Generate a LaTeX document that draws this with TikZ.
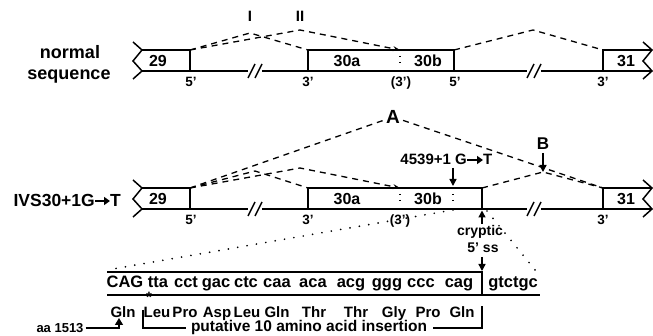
\documentclass[tikz,border=0pt]{standalone}
\usepackage{fontspec}
\setmainfont{Liberation Sans}
\usetikzlibrary{arrows.meta}
\newcommand\fsz[1]{\fontsize{#1}{#1}\selectfont\bfseries}
% torn (continuing) edge of an exon box: x of the edge, y of the box top
\newcommand\tornedge[2]{%
  \draw[exon] (#1-9,#2-8) -- (#1,#2) -- (#1-9,#2+11) -- (#1,#2+21) -- (#1-9,#2+29);}
% intron break mark "//" centred at x on the intron line at y
\newcommand\intronbreak[2]{%
  \draw[exon] (#1-7,#2+7) -- (#1,#2-7) (#1,#2+7) -- (#1+7,#2-7);}
\begin{document}
\begin{tikzpicture}[x=1pt,y=-1pt,
  exon/.style={line width=1.5pt},
  splice/.style={line width=1.3pt, dash pattern=on 6pt off 5pt},
  splicearrow/.style={splice, -{Stealth[length=7pt,width=5pt]}},
  pointer/.style={line width=1.4pt, -{Triangle[length=7pt,width=7pt]}},
  textarrow/.style={line width=1.8pt, -{Triangle[length=6pt,width=8pt]}},
  zoomline/.style={line width=1.9pt, dash pattern=on 0pt off 9.5pt, line cap=round},
  divider/.style={line width=1.3pt, dash pattern=on 1.5pt off 4.5pt},
  lab/.style={inner sep=0pt, anchor=base, font=\fsz{13.5}},
  exlab/.style={inner sep=0pt, font=\fsz{16}},
  seq/.style={inner sep=0pt, anchor=base, font=\fsz{16.5}},
  aa/.style={inner sep=0pt, anchor=base, font=\fsz{15}}]
\useasboundingbox (0,0) rectangle (653,336);

% ---------------- normal sequence ----------------
\node[lab, font=\fsz{18}] (tn1) at (70,59) {normal};
\node[lab, font=\fsz{18}] (tn2) at (69,80) {sequence};

% exon 29
\draw[exon] (142,50) -- (190,50) -- (190,71) -- (142,71);
\tornedge{142}{50}
\node[exlab] (e29) at (158,61) {29};
\coordinate (d29) at (190,50);
% intron 29
\draw[exon] (190,71) -- (248,71) (262,71) -- (308,71);
\intronbreak{255}{71}
% exon 30
\draw[exon] (308,50) rectangle (454,71);
\draw[divider] (400,56) -- (400,68);
\node[exlab] (e30a) at (347,61) {30a};
\node[exlab] (e30b) at (428,61) {30b};
\coordinate (a30) at (308,50);
\coordinate (a30x) at (400,50);
\coordinate (d30) at (454,50);
% intron 30
\draw[exon] (454,71) -- (527,71) (541,71) -- (603,71);
\intronbreak{534}{71}
% exon 31
\draw[exon] (652,50) -- (603,50) -- (603,71) -- (652,71);
\tornedge{652}{50}
\node[exlab] (e31) at (626,61) {31};
\coordinate (a31) at (603,50);
% splice-site labels
\node[lab] (s1) at (191,87) {5'};
\node[lab] (s2) at (308,87) {3'};
\node[lab] (s3) at (401,87) {(3')};
\node[lab] (s4) at (455,87) {5'};
\node[lab] (s5) at (603,87) {3'};
% splicing events
\node[lab, font=\fsz{15}] (pI) at (250,22) {I};
\node[lab, font=\fsz{15}] (pII) at (300,22) {II};
\coordinate (kI) at (250,33);
\coordinate (kII) at (300,30);
\coordinate (k30) at (533,30);
\draw[splice] (d29) -- (kI) -- (a30);
\draw[splicearrow] (d29) -- (kII) -- (a30x);
\draw[splice] (d30) -- (k30) -- (a31);

% ---------------- IVS30+1G->T ----------------
\node[lab, font=\fsz{17.5}, anchor=base east] (tm1) at (95,207) {IVS30+1G};
\node[lab, font=\fsz{17.5}, anchor=base west] (tm2) at (110,207) {T};
\draw[textarrow] (tm1.east |- 0,201) -- (tm2.west |- 0,201);

% exon 29
\draw[exon] (142,188) -- (190,188) -- (190,209) -- (142,209);
\tornedge{142}{188}
\node[exlab] (m29) at (158,199) {29};
\coordinate (md29) at (190,188);
% intron 29
\draw[exon] (190,209) -- (248,209) (262,209) -- (308,209);
\intronbreak{255}{209}
% exon 30 extended to the cryptic donor
\draw[exon] (308,188) rectangle (482,209);
\draw[divider] (400,194) -- (400,206);
\draw[divider] (453,194) -- (453,206);
\node[exlab] (m30a) at (347,199) {30a};
\node[exlab] (m30b) at (428,199) {30b};
\coordinate (ma30) at (308,188);
\coordinate (ma30x) at (400,188);
\coordinate (mcr) at (482,188);
% intron 30
\draw[exon] (482,209) -- (527,209) (541,209) -- (603,209);
\intronbreak{534}{209}
% exon 31
\draw[exon] (652,188) -- (603,188) -- (603,209) -- (652,209);
\tornedge{652}{188}
\node[exlab] (m31) at (626,199) {31};
\coordinate (ma31) at (603,188);
% splice-site labels
\node[lab] (t1) at (191,225) {5'};
\node[lab] (t2) at (308,225) {3'};
\node[lab] (t3) at (400,225) {(3')};
\node[lab] (t5) at (603,225) {3'};
% mutation and cryptic donor
\node[lab, font=\fsz{15}, anchor=base east] (mut1) at (467,165) {4539+1 G};
\node[lab, font=\fsz{15}, anchor=base west] (mut2) at (483,165) {T};
\draw[textarrow] (mut1.east |- 0,160) -- (mut2.west |- 0,160);
\coordinate (mutS) at (453,168);
\coordinate (mutE) at (453,186);
\draw[pointer] (mutS) -- (mutE);
\node[lab, font=\fsz{14}] (cry) at (480,236) {cryptic};
\node[lab, font=\fsz{14}] (css) at (483,253) {5' ss};
\coordinate (cryS) at (482,224);
\coordinate (cryE) at (482,210.5);
\draw[pointer] (cryS) -- (cryE);
% splicing events A and B
\node[font=\fsz{19}, inner sep=3pt] (A) at (393,117) {A};
\node[lab, font=\fsz{17}] (B) at (543,150) {B};
\coordinate (kA1) at (255,171);
\coordinate (kA2) at (300,168);
\coordinate (kB) at (543,172);
\coordinate (BS) at (543,153);
\draw[pointer] (BS) -- (kB);
\draw[splice] (md29) -- (kA1) -- (ma30);
\draw[splicearrow] (md29) -- (kA2) -- (ma30x);
\draw[splice] (md29) -- (A) -- (ma31);
\draw[splice] (mcr) -- (kB) -- (ma31);

% ---------------- inserted sequence ----------------
\coordinate (zL1) at (453,210);
\coordinate (zL2) at (107,270);
\coordinate (zR1) at (487,211);
\coordinate (zR2) at (540,276);
\draw[zoomline] (zL1) -- (zL2);
\draw[zoomline] (zR1) -- (zR2);

\coordinate (bTL) at (107,272);
\coordinate (bTR) at (482,272);
\coordinate (bBR) at (482,295);
\coordinate (bBL) at (107,295);
\coordinate (bBE) at (540,295);
\draw[exon] (bTL) -- (bTR) -- (bBR);
\draw[exon] (bBL) -- (bBE);
\node[inner sep=0pt, font=\fsz{15}] (star) at (149,297.5) {*};

\node[seq] (c1) at (125,288) {CAG};
\node[seq] (c2) at (158,288) {tta};
\node[seq] (c3) at (186,288) {cct};
\node[seq] (c4) at (216,288) {gac};
\node[seq] (c5) at (246,288) {ctc};
\node[seq] (c6) at (277,288) {caa};
\node[seq] (c7) at (313,288) {aca};
\node[seq] (c8) at (351,288) {acg};
\node[seq] (c9) at (387,288) {ggg};
\node[seq] (c10) at (421,288) {ccc};
\node[seq] (c11) at (459,288) {cag};
\node[seq] (c12) at (513,288) {gtctgc};
\coordinate (ssS) at (482,257);
\coordinate (ssE) at (482,271);
\draw[pointer] (ssS) -- (ssE);

\node[aa] (p1) at (123,318) {Gln};
\node[aa] (p2) at (157,318) {Leu};
\node[aa] (p3) at (185,318) {Pro};
\node[aa] (p4) at (217,318) {Asp};
\node[aa] (p5) at (247,318) {Leu};
\node[aa] (p6) at (277,318) {Gln};
\node[aa] (p7) at (314,318) {Thr};
\node[aa] (p8) at (356,318) {Thr};
\node[aa] (p9) at (394,318) {Gly};
\node[aa] (p10) at (428,318) {Pro};
\node[aa] (p11) at (462,318) {Gln};

% insertion bracket
\node[lab, font=\fsz{15.5}] (ins) at (309,332) {putative 10 amino acid insertion};
\coordinate (iL0) at (143,310);
\coordinate (iL1) at (143,328);
\coordinate (iL2) at (186,328);
\coordinate (iR2) at (433,328);
\coordinate (iR1) at (482,328);
\coordinate (iR0) at (482,306);
\draw[line width=1.3pt] (iL0) -- (iL1) -- (iL2);
\draw[line width=1.3pt] (iR2) -- (iR1) -- (iR0);

% residue number
\node[inner sep=2pt, font=\fsz{13}] (aa1513) at (60,328) {aa 1513};
\coordinate (aaK) at (119,328);
\coordinate (aaE) at (119,318);
\draw[line width=1.2pt, -{Triangle[length=7pt,width=8pt]}] (aa1513.east) -- (aaK) -- (aaE);
\end{tikzpicture}
\end{document}
